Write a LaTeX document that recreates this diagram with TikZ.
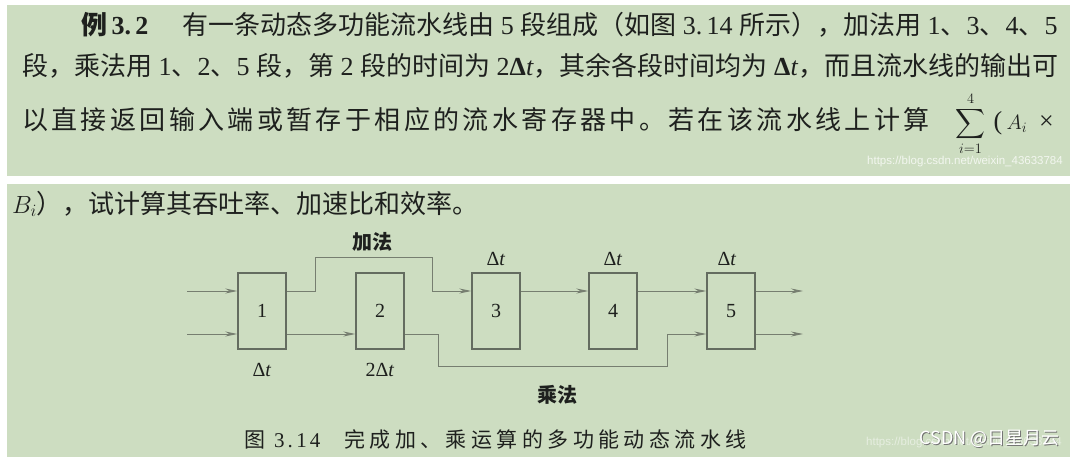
\documentclass[tikz,border=0pt]{standalone}
\usepackage{amsmath}
\usepackage{fontspec}
\setmainfont{Liberation Serif}
\newfontfamily\cjk{Noto Sans CJK SC}
\newfontfamily\wmfont{Liberation Sans}
\usetikzlibrary{arrows.meta}

\definecolor{panelgreen}{RGB}{205,221,193}
\definecolor{ink}{RGB}{30,32,30}
\definecolor{boxgray}{RGB}{100,108,96}
\definecolor{linegray}{RGB}{118,126,112}

\tikzset{
  para/.style={font=\fontsize{26}{30}\selectfont, anchor=west},
  stage/.style={draw=boxgray, line width=1.4pt, minimum width=48pt, minimum height=76pt,
    font=\fontsize{20}{24}\selectfont},
  lbl/.style={font=\fontsize{20}{24}\selectfont},
  flow/.style={draw=linegray, line width=0.9pt},
  arr/.style={flow, -{Stealth[length=12pt,width=5pt]}},
  wmark/.style={text=white, text opacity=0.75, font=\wmfont\fontsize{11.5}{13}\selectfont},
}

\begin{document}
\begin{tikzpicture}[x=1pt, y=-1pt, every node/.style={text=ink, inner sep=0pt}]

  % Hintergrund
  \useasboundingbox (0,0) rectangle (1070,457);
  \fill[white] (0,0) rectangle (1070,457);
  \fill[panelgreen] (7,5) rectangle (1070,176);
  \fill[panelgreen] (7,184) rectangle (1070,457);

  % Text oben
  \node[para] (line1) at (81,25) {{\cjk\bfseries 例}\,\textbf{3.\,2}\hspace{34pt}{\cjk 有一条动态多功能流水线由}~5~{\cjk 段组成（如图}~3.\,14~{\cjk 所示），加法用}~1{\cjk 、}3{\cjk 、}4{\cjk 、}5};
  \node[para] (line2) at (22,66) {{\cjk 段，乘法用}~1{\cjk 、}2{\cjk 、}5~{\cjk 段，第}~2~{\cjk 段的时间为}~2\textbf{Δ}\textit{t}{\cjk ，其余各段时间均为}~\textbf{Δ}\textit{t}{\cjk ，而且流水线的输出可}};
  \node[para] (line3) at (22,124) {{\cjk\addfontfeature{LetterSpace=13}以直接返回输入端或暂存于相应的流水寄存器中。若在该流水线上计算}\hspace{26pt}{\fontsize{20}{24}\selectfont$\displaystyle\sum_{i=1}^{4}$}\hspace{8pt}(\,{\fontsize{22}{26}\selectfont$A_{i}$}\hspace{12pt}×};
  \node[wmark, anchor=east] (mark1) at (1063,162) {https://blog.csdn.net/weixin\_43633784};

  % Text unten
  \node[para] (line4) at (12,204) {{\fontsize{24}{28}\selectfont$B_{i}$}{\cjk ），试计算其吞吐率、加速比和效率。}};

  % Stufen
  \coordinate (c1) at (262,311);
  \coordinate (c2) at (380,311);
  \coordinate (c3) at (496,311);
  \coordinate (c4) at (613,311);
  \coordinate (c5) at (731,311);
  \node[stage] (b1) at (c1) {1};
  \node[stage] (b2) at (c2) {2};
  \node[stage] (b3) at (c3) {3};
  \node[stage] (b4) at (c4) {4};
  \node[stage] (b5) at (c5) {5};

  % Zeiten
  \node[lbl] (t1) at (262,370) {Δ\textit{t}};
  \node[lbl] (t2) at (380,370) {2Δ\textit{t}};
  \node[lbl] (t3) at (496,259) {Δ\textit{t}};
  \node[lbl] (t4) at (613,259) {Δ\textit{t}};
  \node[lbl] (t5) at (727,259) {Δ\textit{t}};
  \node[lbl, font=\cjk\bfseries\fontsize{20}{24}\selectfont] (add) at (372,242) {加法};
  \node[lbl, font=\cjk\bfseries\fontsize{20}{24}\selectfont] (mul) at (557,395) {乘法};

  % Leitungen
  \coordinate (up) at (0,291);
  \coordinate (lo) at (0,334);
  \coordinate (in1) at (187,291);
  \coordinate (in2) at (187,334);
  \coordinate (add1) at (315,257);
  \coordinate (add2) at (432,257);
  \coordinate (mul1) at (438,366);
  \coordinate (mul2) at (667,366);
  \coordinate (out1) at (803,291);
  \coordinate (out2) at (803,334);
  \draw[arr] (in1) -- (b1.west |- up);
  \draw[arr] (in2) -- (b1.west |- lo);
  \draw[arr] (b1.east |- up) -| (add1) -- (add2) |- (b3.west |- up);
  \draw[arr] (b1.east |- lo) -- (b2.west |- lo);
  \draw[arr] (b2.east |- lo) -| (mul1) -- (mul2) |- (b5.west |- lo);
  \draw[arr] (b3.east |- up) -- (b4.west |- up);
  \draw[arr] (b4.east |- up) -- (b5.west |- up);
  \draw[arr] (b5.east |- up) -- (out1);
  \draw[arr] (b5.east |- lo) -- (out2);

  % Unterschrift
  \node[anchor=west, font=\fontsize{21}{25}\selectfont] (cap) at (244,439) {\addfontfeature{LetterSpace=14}{\cjk 图}\hspace{9pt}3.\,14\hspace{24pt}{\cjk\addfontfeature{LetterSpace=21}完成加、乘运算的多功能动态流水线}};
  \node[wmark, anchor=east, text opacity=0.5] (mark2) at (1062,443) {https://blog.csdn.net/weixin\_43633784};
  \node[anchor=east, text=black!55, font=\cjk\fontsize{18}{22}\selectfont] (csdns) at (1061,440) {CSDN @日星月云};
  \node[anchor=east, text=white, font=\cjk\fontsize{18}{22}\selectfont] (csdn) at (1060,439) {CSDN @日星月云};

\end{tikzpicture}
\end{document}
